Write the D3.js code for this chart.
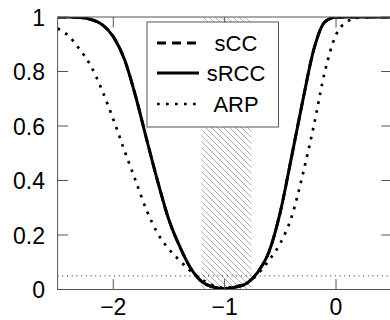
<!DOCTYPE html>
<html><head><meta charset="utf-8">
<script src="https://cdn.jsdelivr.net/npm/d3@7"></script>
<style>body{margin:0;background:#fff}svg{display:block}text{font-family:"Liberation Sans",sans-serif;fill:#000}</style>
</head><body><svg id="c" width="390" height="320"></svg>
<script>
const xTicks=[-2,-1,0];
const xTickLabels=["\u22122","\u22121","0"];
const yTicks=[0,0.2,0.4,0.6,0.8,1];
const yTickLabels=["0","0.2","0.4","0.6","0.8","1"];
const seriesNames=["sCC","sRCC","ARP"];
const gridX=[-2.5,-2.4,-2.3,-2.2,-2.1,-2.0,-1.9,-1.8,-1.7,-1.6,-1.5,-1.4,-1.3,-1.2,-1.1,-1.0,-0.9,-0.8,-0.7,-0.6,-0.5,-0.4,-0.3,-0.2,-0.1,0.0,0.1,0.2,0.3,0.4,0.5];
const sCC =[1.0,1.0,0.998,0.991,0.972,0.928,0.845,0.71,0.55,0.395,0.255,0.155,0.075,0.027,0.009,0.003,0.009,0.023,0.065,0.14,0.285,0.485,0.69,0.88,0.982,0.999,1.0,1.0,1.0,1.0,1.0];
const sRCC=[1.0,1.0,0.998,0.991,0.972,0.928,0.845,0.71,0.55,0.395,0.255,0.155,0.075,0.027,0.009,0.003,0.009,0.023,0.065,0.14,0.285,0.485,0.69,0.88,0.982,0.999,1.0,1.0,1.0,1.0,1.0];
const ARP =[0.958,0.93,0.88,0.82,0.73,0.625,0.51,0.40,0.29,0.205,0.148,0.105,0.065,0.035,0.015,0.006,0.012,0.024,0.058,0.108,0.17,0.265,0.42,0.60,0.80,0.935,0.983,0.998,1.0,1.0,1.0];
const band=[-1.21,-0.76];
const threshold=0.05;

const svg=d3.select("#c");
const x=d3.scaleLinear().domain([-2.5,0.5]).range([57.6,391.7]);
const y=d3.scaleLinear().domain([0,1]).range([289.5,17]);
const X0=x.range()[0],X1=x.range()[1],Y0=y.range()[0],Y1=y.range()[1];

const defs=svg.append("defs");
const pat=defs.append("pattern").attr("id","hatch").attr("patternUnits","userSpaceOnUse").attr("width",6).attr("height",6);
pat.append("path").attr("d","M-1,-1L7,7M-7,-1L1,7M5,-1L13,7").attr("stroke","#9a9a9a").attr("stroke-width",0.8);
defs.append("clipPath").attr("id","clip").append("rect").attr("x",X0).attr("y",Y1).attr("width",X1-X0).attr("height",Y0-Y1);

svg.append("rect").attr("x",x(band[0])).attr("y",Y1).attr("width",x(band[1])-x(band[0])).attr("height",Y0-Y1).attr("fill","url(#hatch)");

// threshold line
svg.append("line").attr("x1",X0).attr("x2",X1).attr("y1",y(threshold)).attr("y2",y(threshold))
  .attr("stroke","#222").attr("stroke-width",1).attr("stroke-dasharray","1,3.7");

const g=svg.append("g").attr("clip-path","url(#clip)");
const line=d3.line().x((d,i)=>x(gridX[i])).y(d=>y(d)).curve(d3.curveMonotoneX);
const styles=[
  {data:sCC,w:2.8,dash:"9,6"},
  {data:sRCC,w:3,dash:null},
  {data:ARP,w:2.7,dash:"2.7,6.3"}
];
styles.forEach(s=>{
  g.append("path").attr("d",line(s.data)).attr("fill","none").attr("stroke","#000")
   .attr("stroke-width",s.w).attr("stroke-dasharray",s.dash);
});

// axes box
const ax=svg.append("g").attr("stroke","#555").attr("stroke-width",1).attr("fill","none");
ax.append("rect").attr("x",X0).attr("y",Y1).attr("width",X1-X0).attr("height",Y0-Y1);
const tl=10.5;
xTicks.forEach(t=>{
  ax.append("line").attr("x1",x(t)).attr("x2",x(t)).attr("y1",Y0).attr("y2",Y0-tl);
  ax.append("line").attr("x1",x(t)).attr("x2",x(t)).attr("y1",Y1).attr("y2",Y1+tl);
});
yTicks.forEach(t=>{
  ax.append("line").attr("x1",X0).attr("x2",X0+tl).attr("y1",y(t)).attr("y2",y(t));
  ax.append("line").attr("x1",X1).attr("x2",X1-tl).attr("y1",y(t)).attr("y2",y(t));
});
const fs=23;
xTicks.forEach((t,i)=>{
  svg.append("text").attr("x",x(t)).attr("y",315).attr("text-anchor","middle").attr("font-size",fs).text(xTickLabels[i]);
});
yTicks.forEach((t,i)=>{
  svg.append("text").attr("x",45).attr("y",y(t)+8.5).attr("text-anchor","end").attr("font-size",fs).text(yTickLabels[i]);
});

// legend
const lg=svg.append("g");
lg.append("rect").attr("x",147).attr("y",22).attr("width",131.5).attr("height",105).attr("fill","#fff").attr("stroke","#555").attr("stroke-width",1);
const rows=[43,73,104];
seriesNames.forEach((n,i)=>{
  const s=styles[i];
  lg.append("line").attr("x1",157).attr("x2",199).attr("y1",rows[i]).attr("y2",rows[i])
    .attr("stroke","#000").attr("stroke-width",s.w).attr("stroke-dasharray",s.dash);
  lg.append("text").attr("x",236).attr("y",rows[i]+8).attr("text-anchor","middle").attr("font-size",22).text(n);
});
</script></body></html>
